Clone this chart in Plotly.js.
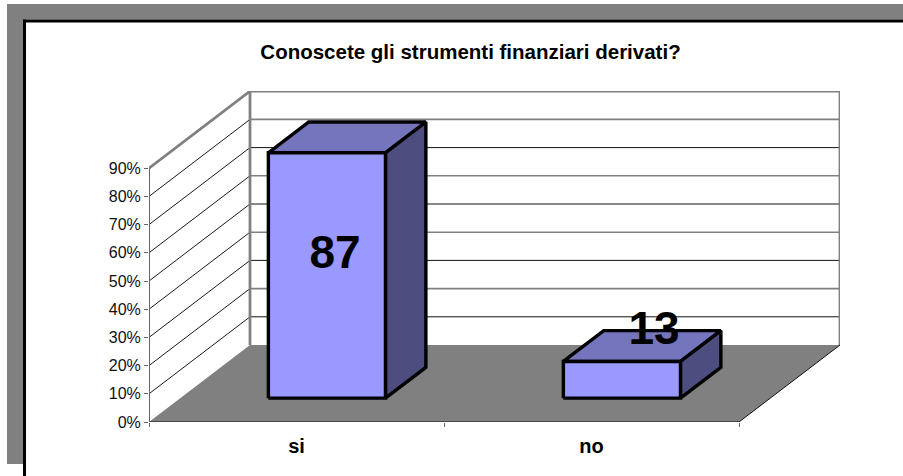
<!DOCTYPE html>
<html><head><meta charset="utf-8">
<script src="https://cdn.plot.ly/plotly-3.0.0.min.js"></script>
<style>html,body{margin:0;padding:0;background:#fff}#c{width:903px;height:476px}</style>
</head><body><div id="c"></div>
<script>
const categories = ["si", "no"];
const percentages = [87, 13];
const valueTicks = [0,10,20,30,40,50,60,70,80,90];
const tickLabels = ["0%","10%","20%","30%","40%","50%","60%","70%","80%","90%"];
const chartTitle = "Conoscete gli strumenti finanziari derivati?";

const FONT = '"Liberation Sans", Arial, sans-serif';
const DX = 101/295, DY = 77/2.82;        // full depth of the 3D box, in data units
const X_MAX = 691/295, Y_MAX = 331/2.82;
const BAR_W = 0.397, BAR_SHIFT = -0.003, D_FRONT = 0.31, D_BACK = 0.71;
const px = (x,d)=>x+d*DX, py=(v,d)=>v+d*DY;

const traces = [];
const NOFILL = 'rgba(0,0,0,0)';
function poly(pts, fill, lineColor, lineW){
  traces.push({type:'scatter',mode:'lines',x:pts.map(p=>p[0]),y:pts.map(p=>p[1]),
    fill:fill?'toself':'none',fillcolor:fill||NOFILL,cliponaxis:false,hoverinfo:'skip',showlegend:false,
    line:{color:lineColor||NOFILL,width:lineW||0,simplify:false}});
}
const N = categories.length;
// floor
poly([[0,0],[px(0,1),py(0,1)],[px(N,1),py(0,1)],[N,0],[0,0]],'#808080');
// grid on side and back walls
const allGrid = valueTicks.slice(1);
allGrid.forEach(v=>{
  const grey=(v/10)%2===0;
  poly([[0,v],[px(0,1),py(v,1)]],null,'#000',0.9);
  poly([[px(0,1),py(v,1)],[px(N,1),py(v,1)]],null,grey?'#808080':'#111',grey?1.6:1);
});
// wall outlines
poly([[0,90],[px(0,1),py(90,1)],[px(N,1),py(90,1)],[px(N,1),py(0,1)]],null,'#808080',2.8);
poly([[px(0,1),py(90,1)],[px(0,1),py(0,1)]],null,'#808080',2.8);
// floor edges
poly([[0,0],[N,0],[px(N,1),py(0,1)]],null,'#111',1);
// value axis line
poly([[0,0],[0,90]],null,'#666',2);
// bars
percentages.forEach((v,i)=>{
  const l=i+0.5+BAR_SHIFT-BAR_W/2, r=i+0.5+BAR_SHIFT+BAR_W/2;
  const P=(x,val,d)=>[px(x,d),py(val,d)];
  poly([P(l,v,D_FRONT),P(l,v,D_BACK),P(r,v,D_BACK),P(r,v,D_FRONT),P(l,v,D_FRONT)],'#7575BD','#000',3.4);
  poly([P(r,0,D_FRONT),P(r,v,D_FRONT),P(r,v,D_BACK),P(r,0,D_BACK),P(r,0,D_FRONT)],'#4D4D80','#000',3.4);
  poly([P(l,0,D_FRONT),P(l,v,D_FRONT),P(r,v,D_FRONT),P(r,0,D_FRONT),P(l,0,D_FRONT)],'#9999FF','#000',3.4);
});
// value labels
traces.push({type:'scatter',mode:'text',cliponaxis:false,hoverinfo:'skip',showlegend:false,
  x:percentages.map((v,i)=>i+0.5+0.212-(v-13)*0.0011),
  y:percentages.map(v=>0.365*v+27),
  text:percentages.map(String),textposition:'middle center',
  textfont:{family:FONT,size:46,color:'#000',weight:700}});

const fx=p=>(p-149)/691, fy=p=>(422-p)/331;
const rect=(x0,y0,x1,y1,c)=>({type:'rect',xref:'paper',yref:'paper',x0:fx(x0),x1:fx(x1),y0:fy(y0),y1:fy(y1),fillcolor:c,line:{width:0},layer:'below'});

const layout = {
  width:903,height:476,paper_bgcolor:'#fff',plot_bgcolor:'rgba(0,0,0,0)',showlegend:false,
  margin:{l:149,r:63,t:91,b:54,pad:0},
  font:{family:FONT,color:'#000',size:16},
  title:{text:'<b>'+chartTitle+'</b>',x:470.5/903,xanchor:'center',y:1-52/476,yanchor:'middle',font:{family:FONT,size:20.5,color:'#000'}},
  xaxis:{range:[0,X_MAX],showgrid:false,zeroline:false,showline:false,
    tickmode:'array',tickvals:categories.map((c,i)=>i+0.5),ticktext:categories.map(c=>'<b>'+c+'</b>'),
    ticks:'outside',ticklen:6,tickcolor:'rgba(0,0,0,0)',tickfont:{family:FONT,size:20,color:'#000'},
    minor:{tickmode:'array',tickvals:[0,1,2],ticks:'outside',ticklen:4,tickcolor:'#666',tickwidth:1,showgrid:false}},
  yaxis:{range:[0,Y_MAX],showgrid:false,zeroline:false,showline:false,
    tickmode:'array',tickvals:valueTicks,ticktext:tickLabels,ticks:'outside',ticklen:4,tickcolor:'#666',tickwidth:1,
    tickfont:{family:FONT,size:16,color:'#111'}},
  shapes:[
    rect(7,4,903,19.5,'#808080'),
    rect(7,4,23,464,'#808080'),
    rect(23,19.5,903,22.5,'#000'),
    rect(23,19.5,26,476,'#000')
  ]
};
Plotly.newPlot('c',traces,layout,{displayModeBar:false,staticPlot:true});
</script></body></html>
